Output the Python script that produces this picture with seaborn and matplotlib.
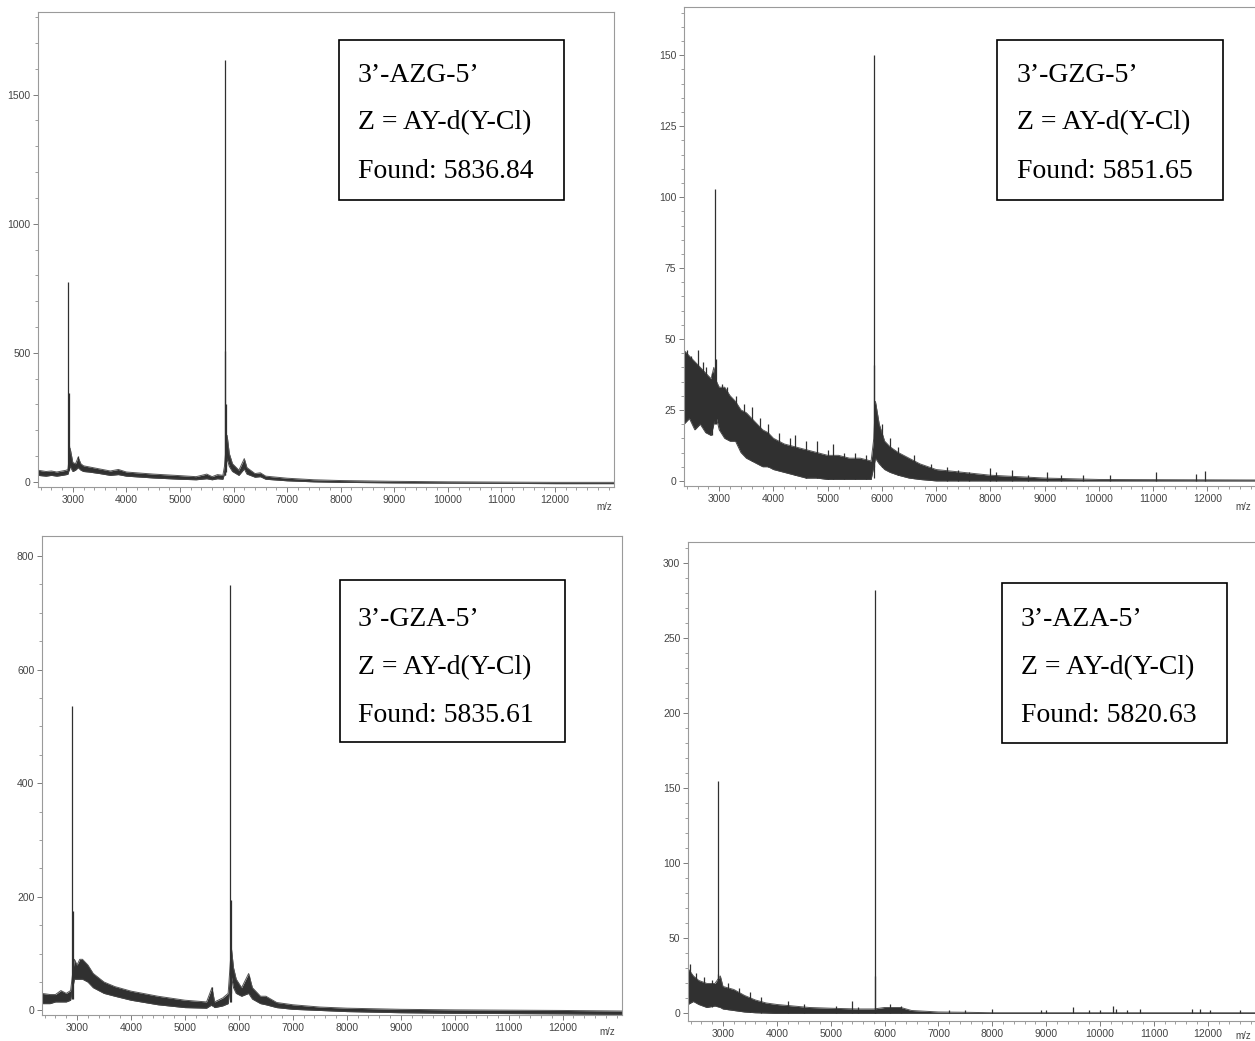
import numpy as np
import pandas as pd
import matplotlib
matplotlib.use("Agg")
import matplotlib.pyplot as plt
import seaborn as sns
from matplotlib.ticker import MultipleLocator
from matplotlib.patches import Rectangle

# ---------------- data ----------------
# Panel A : 3'-AZG-5'
a_env_x = [2350, 2500, 2600, 2700, 2800, 2880, 2910, 2950, 3000, 3050, 3100, 3150, 3200, 3300, 3500,
           3700, 3850, 4000, 4500, 5000, 5300, 5500, 5600, 5700, 5800, 5830, 5880, 5920, 5980, 6100,
           6200, 6250, 6400, 6500, 6600, 7000, 7500, 8000, 9000, 10000, 12000, 13100]
a_env_lo = [25, 22, 25, 22, 25, 28, 30, 60, 40, 45, 55, 45, 40, 38, 32,
            25, 28, 22, 15, 10, 8, 12, 8, 12, 10, 30, 90, 60, 40, 25,
            50, 30, 18, 20, 10, 4, 0, -2, -4, -5, -7, -7]
a_env_hi = [45, 40, 42, 38, 42, 45, 50, 130, 75, 70, 95, 70, 62, 58, 50,
            42, 48, 38, 30, 24, 20, 30, 20, 28, 25, 60, 180, 110, 70, 45,
            90, 55, 32, 35, 22, 14, 8, 5, 2, 0, -2, -2]
a_peak_mz = [2918, 2925, 2932, 3100, 5836, 5845, 5852, 5862]
a_peak_base = [45, 45, 60, 70, 25, 25, 40, 60]
a_peak_h = [775, 345, 140, 100, 1635, 505, 300, 180]

# Panel B : 3'-GZG-5'
b_env_x = [2350, 2450, 2550, 2650, 2750, 2850, 2900, 2950, 3000, 3100, 3200, 3300, 3400, 3500,
           3600, 3700, 3800, 3900, 4000, 4200, 4400, 4600, 4800, 5000, 5200, 5400, 5600, 5800,
           5850, 5880, 5950, 6050, 6150, 6300, 6500, 6700, 7000, 7500, 8000, 8500, 9000, 10000, 13100]
b_env_lo = [20, 22, 18, 20, 17, 16, 20, 22, 18, 15, 14, 14, 10, 8,
            7, 6, 5, 5, 4, 3, 2, 1, 1, 0.5, 0.5, 0.5, 0.5, 0.5,
            5, 8, 6, 4, 3, 2, 1, 0.5, 0, 0, 0, 0, 0, 0, 0]
b_env_hi = [46, 44, 42, 40, 38, 36, 40, 35, 33, 33, 30, 28, 25, 24,
            22, 20, 18, 17, 15, 13, 12, 11, 10, 9, 9, 8, 8, 7,
            15, 28, 20, 14, 12, 10, 8, 6, 4, 3, 2, 1.5, 1, 0.5, 0.3]
b_peak_mz = [2928, 2935, 5851, 5860, 5868, 6150,
             2400, 2480, 2600, 2700, 2750, 2870, 3050, 3150, 3300, 3450, 3600, 3750, 3900,
             4100, 4300, 4400, 4600, 4800, 5000, 5100, 5300, 5500, 5700, 6000, 6300, 6600,
             6900, 7200, 7400, 7600, 8000, 8100, 8400, 8700, 9050, 9300, 9700, 10200, 11050,
             11800, 11950]
b_peak_base = [20, 20, 1, 5, 8, 5,
               22, 22, 20, 20, 18, 16, 18, 15, 14, 10, 7, 6, 5,
               4, 3, 2, 1, 1, 0.5, 0.5, 0.5, 0.5, 0.5, 5, 2, 1,
               0.5, 0, 0, 0, 0, 0, 0, 0, 0, 0, 0, 0, 0,
               0, 0]
b_peak_h = [103, 43, 150, 41, 27, 15,
            46, 44, 46, 42, 40, 38, 34, 33, 30, 27, 26, 22, 20,
            17, 15, 16, 14, 14, 11, 13, 10, 10, 9, 20, 12, 9,
            6, 5, 4, 3, 4.5, 3, 4, 2, 3, 2, 2, 2, 3,
            2.5, 3.5]

# Panel C : 3'-GZA-5'
c_env_x = [2350, 2500, 2600, 2700, 2800, 2880, 2950, 3000, 3050, 3100, 3200, 3300, 3500, 3700,
           4000, 4500, 5000, 5400, 5500, 5550, 5700, 5800, 5860, 5900, 5950, 6050, 6180, 6250,
           6400, 6500, 6700, 7000, 7500, 8000, 9000, 10000, 12000, 13100]
c_env_lo = [12, 12, 15, 15, 15, 18, 55, 55, 55, 55, 50, 40, 30, 25,
            18, 10, 5, 4, 10, 5, 8, 12, 60, 40, 30, 25, 30, 20,
            12, 10, 5, 2, 0, -2, -4, -5, -6, -7]
c_env_hi = [30, 28, 28, 35, 30, 35, 90, 80, 90, 90, 80, 65, 50, 42,
            34, 25, 18, 15, 40, 15, 22, 30, 110, 75, 55, 40, 65, 40,
            25, 25, 14, 10, 6, 4, 2, 1, 0, -1]
c_peak_mz = [2912, 2918, 3080, 5500, 5836, 5845, 5852, 6180]
c_peak_base = [20, 20, 60, 8, 15, 15, 30, 35]
c_peak_h = [535, 175, 85, 42, 748, 195, 90, 60]

# Panel D : 3'-AZA-5'
d_env_x = [2350, 2450, 2550, 2700, 2850, 2950, 3000, 3200, 3400, 3600, 3800, 4000, 4300, 4600,
           5000, 5500, 5800, 6000, 6300, 6500, 7000, 7500, 8000, 13100]
d_env_lo = [6, 8, 6, 4, 5, 4, 3, 2, 1, 0.5, 0.3, 0, 0, 0,
            0, 0, 0, 0, 0, 0, 0, 0, 0, 0]
d_env_hi = [30, 25, 22, 20, 20, 25, 18, 16, 12, 9, 7, 6, 5, 4,
            3.5, 3, 3, 4, 4, 2, 1, 0.8, 0.5, 0.5]
d_peak_mz = [2900, 2908, 5820, 5828, 2380, 2500, 2650, 2800, 3100, 3300, 3500, 3700, 4200,
             4500, 5100, 5400, 5500, 6100, 6300, 7200, 7500, 8000, 8900, 9000,
             9500, 9800, 10000, 10250, 10300, 10500, 10750, 11700, 11850, 12050, 12600]
d_peak_base = [5, 5, 0, 0, 8, 8, 6, 4, 3, 2, 1, 0.5, 0,
               0, 0, 0, 0, 0, 0, 0, 0, 0, 0, 0,
               0, 0, 0, 0, 0, 0, 0, 0, 0, 0, 0]
d_peak_h = [155, 26, 282, 25, 33, 27, 24, 22, 20, 17, 14, 11, 8,
            6, 5, 8, 4, 6, 5, 2, 2.5, 3, 2, 2,
            4, 2.5, 2.5, 5, 3, 2.5, 3, 3, 3, 2, 2]

labels = [["3\u2019-AZG-5\u2019", "Z = AY-d(Y-Cl)", "Found: 5836.84"],
          ["3\u2019-GZG-5\u2019", "Z = AY-d(Y-Cl)", "Found: 5851.65"],
          ["3\u2019-GZA-5\u2019", "Z = AY-d(Y-Cl)", "Found: 5835.61"],
          ["3\u2019-AZA-5\u2019", "Z = AY-d(Y-Cl)", "Found: 5820.63"]]

# ---------------- figure ----------------
sns.set_theme(style="white")
plt.rcParams['font.family'] = ['Liberation Sans', 'DejaVu Sans']

W, H = 1255, 1041
fig = plt.figure(figsize=(W / 100, H / 100), dpi=100)
fig.patch.set_facecolor("white")


def px_axes(left, top, right, bottom):
    return fig.add_axes([left / W, 1 - bottom / H, (right - left) / W, (bottom - top) / H])


panels = [
    dict(ax=(38, 12, 614, 487), ylim=(-20, 1820), major=500, minor=100,
         env=(a_env_x, a_env_lo, a_env_hi), peaks=(a_peak_mz, a_peak_base, a_peak_h),
         box=(339, 40, 564, 200), tx=358, ty=(75, 123, 172), mz=(604, 507)),
    dict(ax=(684, 7, 1267, 486), ylim=(-1.8, 167), major=25, minor=5,
         env=(b_env_x, b_env_lo, b_env_hi), peaks=(b_peak_mz, b_peak_base, b_peak_h),
         box=(997, 40, 1223, 200), tx=1017, ty=(75, 123, 172), mz=(1243, 507)),
    dict(ax=(42, 536, 622, 1015), ylim=(-8, 835), major=200, minor=50,
         env=(c_env_x, c_env_lo, c_env_hi), peaks=(c_peak_mz, c_peak_base, c_peak_h),
         box=(340, 580, 565, 742), tx=358, ty=(619, 668, 715), mz=(607, 1032)),
    dict(ax=(688, 542, 1267, 1021), ylim=(-5, 314), major=50, minor=10,
         env=(d_env_x, d_env_lo, d_env_hi), peaks=(d_peak_mz, d_peak_base, d_peak_h),
         box=(1002, 583, 1227, 743), tx=1021, ty=(619, 668, 715), mz=(1243, 1036)),
]

band_col = "#303030"
for i, p in enumerate(panels):
    ax = px_axes(*p["ax"])
    ex, lo, hi = p["env"]
    df = pd.DataFrame({"mz": ex * 2, "I": lo + hi, "edge": ["lo"] * len(ex) + ["hi"] * len(ex)})
    ax.fill_between(ex, lo, hi, color=band_col, lw=0)
    sns.lineplot(data=df, x="mz", y="I", hue="edge", palette=["#444444", "#555555"],
                 estimator=None, lw=0.7, legend=False, ax=ax)
    pm, pb, ph = p["peaks"]
    ax.vlines(pm, pb, ph, color=band_col, lw=0.9)

    ax.set_xlim(2350, 13100)
    ax.set_ylim(*p["ylim"])
    ax.set_xlabel("")
    ax.set_ylabel("")
    ax.xaxis.set_minor_locator(MultipleLocator(200))
    ax.yaxis.set_major_locator(MultipleLocator(p["major"]))
    ax.yaxis.set_minor_locator(MultipleLocator(p["minor"]))
    ax.set_xticks([3000, 4000, 5000, 6000, 7000, 8000, 9000, 10000, 11000, 12000])
    ax.tick_params(axis="both", which="major", direction="out", length=3.5, width=0.6,
                   color="#666666", labelsize=7.5, labelcolor="#444444", pad=2,
                   bottom=True, left=True)
    ax.tick_params(axis="both", which="minor", direction="out", length=2.2, width=0.5,
                   color="#777777", bottom=True, left=True)
    for s in ax.spines.values():
        s.set_color("#9a9a9a")
        s.set_linewidth(0.8)
    ax.grid(False)
    ax.set_facecolor("white")

    # annotation box
    x0, y0, x1, y1 = p["box"]
    fig.add_artist(Rectangle((x0 / W, 1 - y1 / H), (x1 - x0) / W, (y1 - y0) / H,
                             transform=fig.transFigure, fill=True, fc="white",
                             ec="black", lw=1.2, zorder=5))
    for line, ty in zip(labels[i], p["ty"]):
        fig.text(p["tx"] / W, 1 - ty / H, line, family=["Liberation Serif", "DejaVu Serif"],
                 fontsize=20, va="center", ha="left", color="black", zorder=6)
    fig.text(p["mz"][0] / W, 1 - p["mz"][1] / H, "m/z", fontsize=7, color="#444444",
             ha="center", va="center")

fig.savefig("out.png", dpi=100, facecolor="white")
